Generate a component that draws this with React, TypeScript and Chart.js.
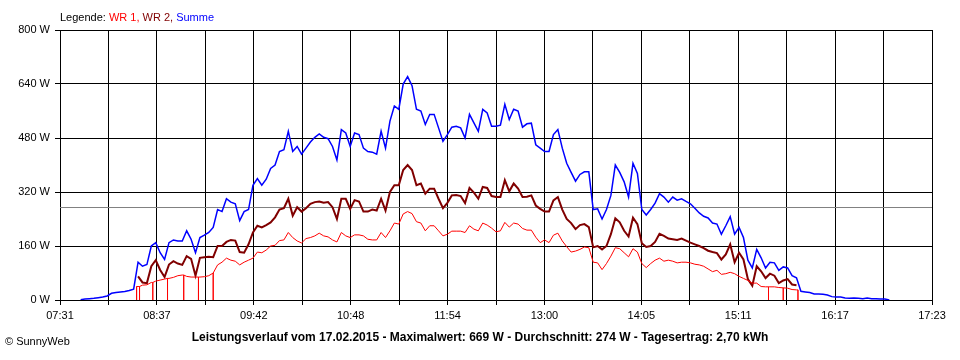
import React, { useEffect, useRef } from "react";
import { Chart, registerables } from "chart.js";

Chart.register(...registerables);

// ---- data ----
// time axis in minutes since midnight
const AXIS_START_MIN = 451; // 07:31
const AXIS_END_MIN = 1043; // 17:23
const X_GRID_DIVISIONS = 18;
const X_TICK_LABELS = ["07:31", "08:37", "09:42", "10:48", "11:54", "13:00", "14:05", "15:11", "16:17", "17:23"];

const Y_MAX = 800;
const Y_STEP = 160;

const SAMPLE_STEP_MIN = 3;
const SUMME_START_MIN = 465; // 07:45
const WR_START_MIN = 504; // 08:24

const summe = [
  1, 3, 4, 5, 7, 9, 12, 20, 22, 24,
  25, 28, 32, 112, 100, 105, 160, 170, 140, 120,
  170, 178, 175, 175, 205, 180, 140, 185, 192, 200,
  215, 268, 262, 300, 290, 285, 235, 262, 268, 340,
  360, 340, 358, 390, 400, 440, 445, 500, 440, 455,
  432, 450, 468, 482, 492, 482, 478, 455, 415, 505,
  495, 455, 495, 490, 450, 440, 438, 432, 500, 450,
  530, 575, 565, 640, 662, 635, 565, 560, 520, 550,
  550, 510, 470, 490, 512, 515, 510, 480, 550, 525,
  500, 565, 554, 515, 515, 518, 580, 535, 565, 560,
  512, 522, 524, 460, 450, 440, 440, 490, 505, 450,
  405, 378, 352, 372, 380, 380, 268, 270, 240, 268,
  310, 400, 378, 350, 305, 405, 375, 268, 252, 268,
  287, 315, 305, 290, 305, 296, 300, 292, 285, 272,
  258, 248, 243, 228, 225, 195, 220, 247, 195, 215,
  185, 118, 95, 150, 125, 95, 112, 110, 88, 98,
  95, 72, 66, 26, 24, 22, 18, 18, 17, 15,
  10, 9, 9, 6, 5, 6, 5, 4, 6, 4,
  4, 3, 3, 0,
];

const wr2 = [
  70, 52, 50, 100, 118, 89, 68, 105, 115, 108,
  104, 130, 122, 72, 125, 127, 128, 127, 160, 160,
  172, 178, 176, 142, 140, 165, 200, 220, 215, 222,
  230, 245, 268, 272, 300, 250, 275, 262, 272, 285,
  290, 292, 288, 290, 275, 240, 300, 300, 270, 296,
  292, 262, 262, 268, 265, 300, 265, 320, 340, 340,
  385, 400, 385, 340, 345, 315, 330, 330, 300, 272,
  288, 310, 311, 308, 287, 332, 318, 300, 335, 332,
  308, 305, 305, 355, 322, 345, 330, 305, 306, 310,
  280, 270, 262, 262, 295, 305, 268, 240, 228, 210,
  222, 225, 216, 156, 160, 150, 160, 195, 242, 230,
  205, 188, 244, 225, 168, 157, 160, 172, 196, 190,
  182, 180, 178, 182, 176, 170, 165, 160, 154, 146,
  142, 139, 120, 135, 165, 112, 140, 120, 62, 42,
  100, 85, 65, 78, 72, 50, 58, 62, 46, 44,
];

const wr1 = [
  40, 44, 45, 52, 56, 59, 62, 64, 67, 72,
  74, 70, 68, 68, 68, 69, 72, 80, 104, 112,
  124, 118, 115, 104, 112, 118, 124, 142, 140, 148,
  160, 162, 176, 178, 200, 185, 175, 169, 182, 185,
  190, 198, 190, 187, 178, 172, 200, 190, 185, 193,
  193, 190, 180, 178, 178, 200, 185, 205, 228, 225,
  255, 262, 256, 232, 228, 205, 220, 220, 205, 190,
  195, 204, 204, 204, 200, 220, 210, 205, 228, 222,
  213, 202, 205, 230, 216, 228, 225, 212, 207, 207,
  186, 170, 178, 170, 192, 198, 175, 158, 142, 145,
  150, 157, 155, 112, 110, 90, 108, 130, 155, 152,
  140, 128, 152, 142, 108, 96, 108, 118, 124, 115,
  118, 115, 110, 112, 112, 110, 106, 104, 100, 92,
  84, 88, 76, 78, 82, 78, 70, 64, 58, 50,
  50, 40, 39, 39, 39, 37, 36, 35, 31, 30,
];

// moments where WR 1 briefly dropped to 0 W (minutes)
const wr1Dropouts = [503, 505, 514, 524, 535, 545, 555, 932, 942, 952];

const AVERAGE_W = 274;

const LEGEND_PARTS: [string, string][] = [
  ["Legende: ", "#000000"],
  ["WR 1, ", "#ff0000"],
  ["WR 2, ", "#800000"],
  ["Summe", "#0000ff"],
];
const TITLE = "Leistungsverlauf vom 17.02.2015 - Maximalwert: 669 W - Durchschnitt: 274 W - Tagesertrag: 2,70 kWh";
const COPYRIGHT = "\u00A9 SunnyWeb";

const FONT = "'Liberation Sans', Arial, sans-serif";

function toPoints(values: number[], startMin: number) {
  return values.map((v, i) => ({ x: startMin + i * SAMPLE_STEP_MIN, y: v }));
}

function withDropouts(values: number[], startMin: number, drops: number[]) {
  const pts = toPoints(values, startMin);
  drops.forEach((t) => {
    let k = Math.round((t - startMin) / SAMPLE_STEP_MIN);
    k = Math.max(0, Math.min(values.length - 1, k));
    const v = values[k];
    pts.push({ x: t, y: v }, { x: t, y: 0 }, { x: t, y: v });
  });
  // stable sort by x keeps the v,0,v triplets in order
  return pts
    .map((p, i) => ({ p, i }))
    .sort((a, b) => a.p.x - b.p.x || a.i - b.i)
    .map((o) => o.p);
}

const textPlugin = {
  id: "sunnyTexts",
  afterDraw(chart: any) {
    const ctx = chart.ctx as CanvasRenderingContext2D;
    ctx.save();
    ctx.textBaseline = "alphabetic";
    ctx.textAlign = "left";
    ctx.font = `11px ${FONT}`;
    let x = 60;
    for (const [t, c] of LEGEND_PARTS) {
      ctx.fillStyle = c;
      ctx.fillText(t, x, 21);
      x += ctx.measureText(t).width;
    }
    ctx.fillStyle = "#000";
    ctx.fillText(COPYRIGHT, 5, 345);
    ctx.font = `bold 12px ${FONT}`;
    ctx.textAlign = "center";
    ctx.fillText(TITLE, 480, 341);
    ctx.restore();
  },
};

export default function App() {
  const ref = useRef<HTMLCanvasElement | null>(null);

  useEffect(() => {
    document.body.style.margin = "0";
    const canvas = ref.current;
    if (!canvas) return;
    const chart = new Chart(canvas, {
      type: "line",
      data: {
        datasets: [
          {
            label: "WR 1",
            data: withDropouts(wr1, WR_START_MIN, wr1Dropouts),
            borderColor: "#ff0000",
            borderWidth: 1,
            pointRadius: 0,
            tension: 0,
          },
          {
            label: "WR 2",
            data: toPoints(wr2, WR_START_MIN),
            borderColor: "#800000",
            borderWidth: 2,
            pointRadius: 0,
            tension: 0,
          },
          {
            label: "Summe",
            data: toPoints(summe, SUMME_START_MIN),
            borderColor: "#0000ff",
            borderWidth: 1.5,
            pointRadius: 0,
            tension: 0,
          },
          {
            label: "Durchschnitt",
            data: [
              { x: AXIS_START_MIN, y: AVERAGE_W },
              { x: AXIS_END_MIN, y: AVERAGE_W },
            ],
            borderColor: "#808080",
            borderWidth: 1,
            pointRadius: 0,
          },
        ],
      },
      options: {
        animation: false,
        responsive: false,
        devicePixelRatio: 1,
        parsing: true,
        layout: { padding: { top: 30, right: 28, left: 0, bottom: 0 } },
        plugins: {
          legend: { display: false },
          title: { display: false },
          tooltip: { enabled: false },
        },
        scales: {
          x: {
            type: "linear",
            min: AXIS_START_MIN,
            max: AXIS_END_MIN,
            afterBuildTicks: (scale: any) => {
              const step = (AXIS_END_MIN - AXIS_START_MIN) / X_GRID_DIVISIONS;
              scale.ticks = Array.from({ length: X_GRID_DIVISIONS + 1 }, (_, k) => ({
                value: AXIS_START_MIN + k * step,
              }));
            },
            afterFit: (scale: any) => {
              scale.height = 60;
            },
            ticks: {
              autoSkip: false,
              maxRotation: 0,
              padding: 4,
              color: "#000",
              font: { family: FONT, size: 11 },
              callback: (_v: any, idx: number) => (idx % 2 === 0 ? X_TICK_LABELS[idx / 2] : ""),
            },
            grid: { color: "#000", lineWidth: 1, tickLength: 5, drawTicks: true },
            border: { color: "#000", width: 1 },
          },
          y: {
            min: 0,
            max: Y_MAX,
            afterFit: (scale: any) => {
              scale.width = 60;
            },
            ticks: {
              stepSize: Y_STEP,
              padding: 5,
              color: "#000",
              font: { family: FONT, size: 11 },
              callback: (v: any) => `${v} W`,
            },
            grid: { color: "#000", lineWidth: 1, tickLength: 5, drawTicks: true },
            border: { color: "#000", width: 1 },
          },
        },
      },
      plugins: [textPlugin],
    });
    return () => chart.destroy();
  }, []);

  return (
    <div style={{ position: "absolute", left: 0, top: 0, width: 960, height: 360, background: "#fff" }}>
      <canvas ref={ref} width={960} height={360} style={{ display: "block" }} />
    </div>
  );
}
